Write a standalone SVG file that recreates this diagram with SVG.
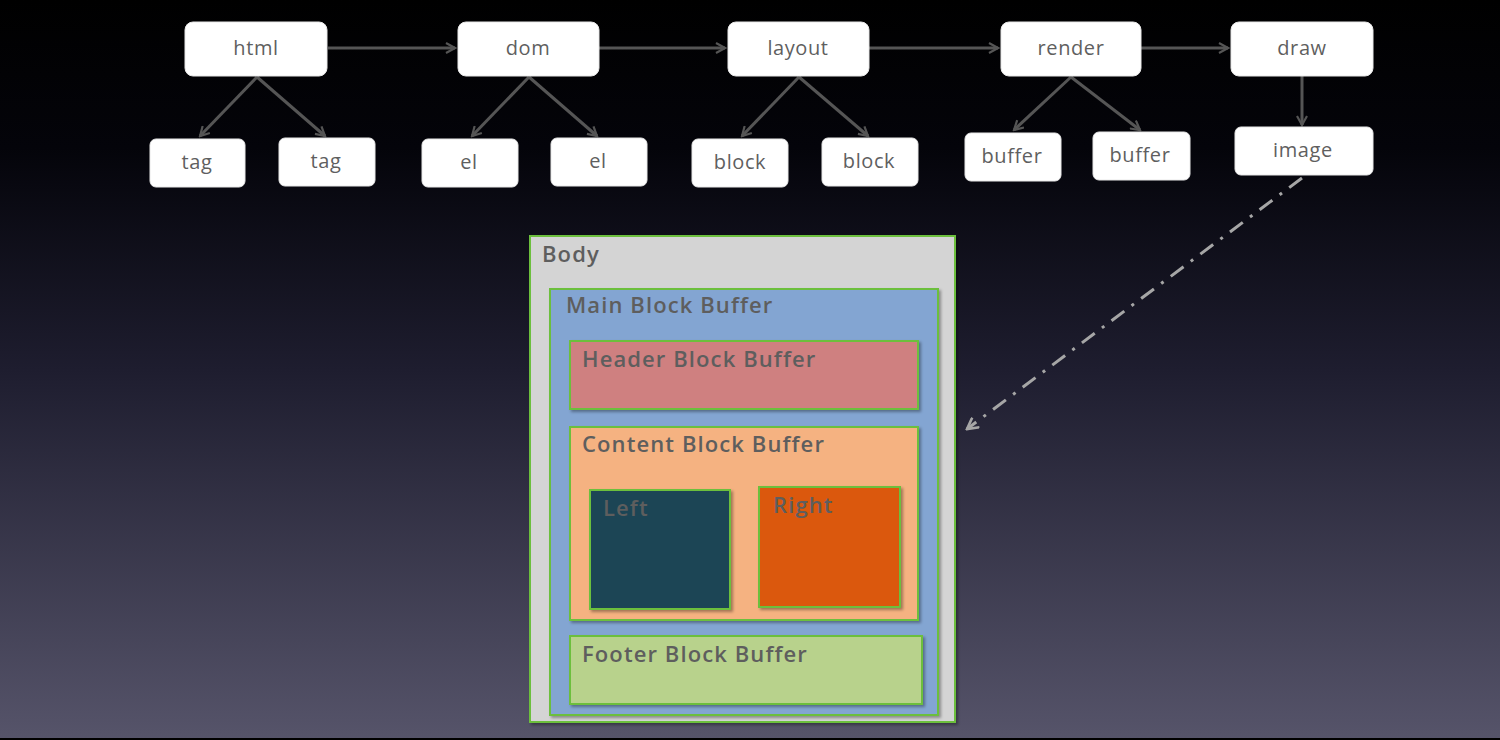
<svg xmlns="http://www.w3.org/2000/svg" width="1500" height="740" viewBox="0 0 1500 740">
<defs>
<linearGradient id="bg" x1="0" y1="0" x2="0" y2="1">
<stop offset="0" stop-color="#000000"/>
<stop offset="0.2" stop-color="#04040a"/>
<stop offset="0.5" stop-color="#1e1d2f"/>
<stop offset="1" stop-color="#56546a"/>
</linearGradient>
<marker id="arr" viewBox="0 0 12 12" refX="10" refY="6" markerWidth="12" markerHeight="12" markerUnits="userSpaceOnUse" orient="auto">
<path d="M1,1 L10,6 L1,11" fill="none" stroke="#555555" stroke-width="2.2"/>
</marker>
<marker id="arrd" viewBox="0 0 14 14" refX="12" refY="7" markerWidth="14" markerHeight="14" markerUnits="userSpaceOnUse" orient="auto">
<path d="M1,1 L12,7 L1,13" fill="none" stroke="#a6a6a6" stroke-width="2.6"/>
</marker>
<filter id="sh" x="-10%" y="-10%" width="130%" height="130%">
<feDropShadow dx="2" dy="2" stdDeviation="1.5" flood-color="#000" flood-opacity="0.35"/>
</filter>
</defs>
<style>
.n rect{fill:#ffffff;stroke:#e8e8e8;stroke-width:1}
.n text{font-family:"Open Sans","Liberation Sans",sans-serif;font-size:20px;letter-spacing:0.6px;fill:#5f5f5f;text-anchor:middle}
.c{stroke:#555555;stroke-width:3;fill:none;marker-end:url(#arr)}
.b rect{stroke:#6cbf3c;stroke-width:2;filter:url(#sh)}
.b text{font-family:"Open Sans","Liberation Sans",sans-serif;font-size:22px;font-weight:600;letter-spacing:1.1px;fill:#5e5e5e}
</style>
<rect x="0" y="0" width="1500" height="740" fill="url(#bg)"/>
<rect x="0" y="738" width="1500" height="2" fill="#000"/>

<g id="connectors">
<line class="c" x1="328" y1="48" x2="455" y2="48"/>
<line class="c" x1="599" y1="48" x2="725" y2="48"/>
<line class="c" x1="869" y1="48" x2="998" y2="48"/>
<line class="c" x1="1139" y1="48" x2="1228" y2="48"/>
<line class="c" x1="257" y1="77" x2="200" y2="136"/>
<line class="c" x1="257" y1="77" x2="325" y2="136"/>
<line class="c" x1="529" y1="77" x2="472" y2="136"/>
<line class="c" x1="529" y1="77" x2="597" y2="136"/>
<line class="c" x1="799" y1="77" x2="742" y2="136"/>
<line class="c" x1="799" y1="77" x2="868" y2="136"/>
<line class="c" x1="1071" y1="77" x2="1014" y2="130"/>
<line class="c" x1="1071" y1="77" x2="1140" y2="130"/>
<line class="c" x1="1302" y1="69" x2="1302" y2="125"/>
<line x1="1302" y1="178" x2="967" y2="429" stroke="#a6a6a6" stroke-width="3" stroke-dasharray="16,9,3,9" marker-end="url(#arrd)"/>
</g>

<g id="html" class="n"><rect x="185" y="22" width="142" height="54" rx="8"/><text x="256" y="55">html</text></g>
<g id="dom" class="n"><rect x="458" y="22" width="141" height="54" rx="8"/><text x="528" y="55">dom</text></g>
<g id="layout" class="n"><rect x="728" y="22" width="141" height="54" rx="8"/><text x="798" y="55">layout</text></g>
<g id="render" class="n"><rect x="1001" y="22" width="140" height="54" rx="8"/><text x="1071" y="55">render</text></g>
<g id="draw" class="n"><rect x="1231" y="22" width="142" height="54" rx="8"/><text x="1302" y="55">draw</text></g>

<g id="tag1" class="n"><rect x="150" y="139" width="95" height="48" rx="6"/><text x="197" y="169">tag</text></g>
<g id="tag2" class="n"><rect x="279" y="138" width="96" height="48" rx="6"/><text x="326" y="168">tag</text></g>
<g id="el1" class="n"><rect x="422" y="139" width="96" height="48" rx="6"/><text x="469" y="169">el</text></g>
<g id="el2" class="n"><rect x="551" y="138" width="96" height="48" rx="6"/><text x="598" y="168">el</text></g>
<g id="block1" class="n"><rect x="692" y="139" width="96" height="48" rx="6"/><text x="740" y="169">block</text></g>
<g id="block2" class="n"><rect x="822" y="138" width="96" height="48" rx="6"/><text x="869" y="168">block</text></g>
<g id="buffer1" class="n"><rect x="965" y="133" width="96" height="48" rx="6"/><text x="1012" y="163">buffer</text></g>
<g id="buffer2" class="n"><rect x="1093" y="132" width="97" height="48" rx="6"/><text x="1140" y="162">buffer</text></g>
<g id="image" class="n"><rect x="1235" y="127" width="138" height="48" rx="6"/><text x="1303" y="157">image</text></g>

<g id="body" class="b"><rect x="530" y="236" width="425" height="486" fill="#d4d4d4"/><text x="542" y="262">Body</text></g>
<g id="main" class="b"><rect x="550" y="289" width="388" height="426" fill="#83a5d2"/><text x="566" y="313">Main Block Buffer</text></g>
<g id="header" class="b"><rect x="570" y="341" width="348" height="68" fill="#cf8080"/><text x="582" y="367">Header Block Buffer</text></g>
<g id="content" class="b"><rect x="570" y="427" width="348" height="193" fill="#f5b281"/><text x="582" y="452">Content Block Buffer</text></g>
<g id="left" class="b"><rect x="590" y="490" width="140" height="119" fill="#1c4554"/><text x="603" y="516">Left</text></g>
<g id="right" class="b"><rect x="759" y="487" width="141" height="120" fill="#db5910"/><text x="773" y="513">Right</text></g>
<g id="footer" class="b"><rect x="570" y="636" width="352" height="68" fill="#b8d28c"/><text x="582" y="662">Footer Block Buffer</text></g>
</svg>
